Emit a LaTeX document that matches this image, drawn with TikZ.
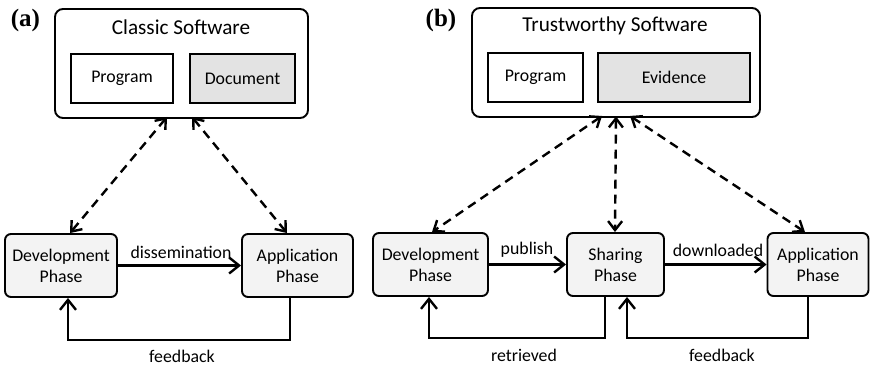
\documentclass[tikz,border=0pt]{standalone}
\usepackage{fontspec}
\setmainfont{Carlito}
\newfontfamily\panelfont{Liberation Serif}
\usetikzlibrary{arrows.meta,positioning}

\definecolor{phasefill}{HTML}{F3F3F3}
\definecolor{docfill}{HTML}{E3E3E3}

\tikzset{
  swbox/.style={draw, line width=1.9pt, rounded corners=8pt, minimum width=#1, minimum height=109pt, inner sep=0pt},
  partbox/.style={draw, line width=1.5pt, minimum width=#1, minimum height=49pt, inner sep=0pt, font=\fontsize{17.8}{20}\selectfont},
  phasebox/.style={draw, line width=1.9pt, rounded corners=6pt, fill=phasefill, minimum width=#1, minimum height=63pt, inner sep=0pt, align=center, font=\fontsize{17.8}{21}\selectfont},
  titletext/.style={font=\fontsize{21.2}{24}\selectfont, inner sep=0pt},
  edgetext/.style={font=\fontsize{17.8}{20}\selectfont, inner sep=0pt},
  panellabel/.style={font=\panelfont\bfseries\fontsize{25}{28}\selectfont, inner sep=0pt},
  flow/.style={line width=2.4pt, -{Straight Barb[length=10pt,width=16pt,line width=2.4pt]}},
  link/.style={line width=2.4pt, dash pattern=on 9pt off 6pt,
    {Straight Barb[length=9pt,width=14pt,line width=2.4pt]}-{Straight Barb[length=9pt,width=14pt,line width=2.4pt]}},
}

\begin{document}
\begin{tikzpicture}[x=1pt, y=-1pt]
\useasboundingbox (0,0) rectangle (870,367);

% ---------- panel (a): classic software ----------
\node[panellabel] (labA) at (25.5,20) {(a)};
\node[swbox=253pt] (swA) at (181.5,63.5) {};
\node[titletext] (titA) at (181,27) {Classic Software};
\node[partbox=102pt] (progA) at (122,78.5) {Program};
\node[partbox=105pt, fill=docfill] (docA) at (242.5,78.5) {Document};

\node[phasebox=112pt] (devA) at (61,265.5) {Development\\Phase};
\node[phasebox=111pt] (appA) at (297.5,265.5) {Application\\Phase};

\draw[flow] (devA.east) -- (appA.west);
\node[edgetext] (dissA) at (181,252) {dissemination};

\draw[flow] ([xshift=-7.5pt]appA.south) -- ++(0,42) -| ([xshift=7pt]devA.south);
\node[edgetext] (fbA) at (182,356) {feedback};

\draw[link] ([xshift=-14.5pt,yshift=2pt]swA.south) -- ([xshift=9pt]devA.north);
\draw[link] ([xshift=10.5pt,yshift=2pt]swA.south) -- ([xshift=-10.5pt]appA.north);

% ---------- panel (b): trustworthy software ----------
\node[panellabel] (labB) at (441,20) {(b)};
\node[swbox=288pt] (swB) at (616,62.5) {};
\node[titletext] (titB) at (615,25.5) {Trustworthy Software};
\node[partbox=95pt] (progB) at (535.5,77.5) {Program};
\node[partbox=152pt, fill=docfill] (evB) at (674,77.5) {Evidence};

\node[phasebox=115pt] (devB) at (430.5,264.5) {Development\\Phase};
\node[phasebox=97pt] (shrB) at (615.5,264.5) {Sharing\\Phase};
\node[phasebox=101pt] (appB) at (818,264.5) {Application\\Phase};

\draw[flow] (devB.east) -- (shrB.west);
\node[edgetext] (pubB) at (527,250) {publish};
\draw[flow] (shrB.east) -- (appB.west);
\node[edgetext] (dlB) at (718,250) {downloaded};

\draw[flow] ([xshift=-10.5pt]shrB.south) -- ++(0,41) -| ([xshift=-1.5pt]devB.south);
\node[edgetext] (retB) at (524,355) {retrieved};
\draw[flow] ([xshift=-10pt]appB.south) -- ++(0,41) -| ([xshift=11.5pt]shrB.south);
\node[edgetext] (fbB) at (722,355) {feedback};

\draw[link] ([xshift=-14pt,yshift=2pt]swB.south) -- ([xshift=1.5pt]devB.north);
\draw[link] ([yshift=1.5pt]swB.south) -- ([xshift=-0.5pt]shrB.north);
\draw[link] ([xshift=14pt,yshift=2pt]swB.south) -- ([xshift=-13pt]appB.north);
\end{tikzpicture}
\end{document}
